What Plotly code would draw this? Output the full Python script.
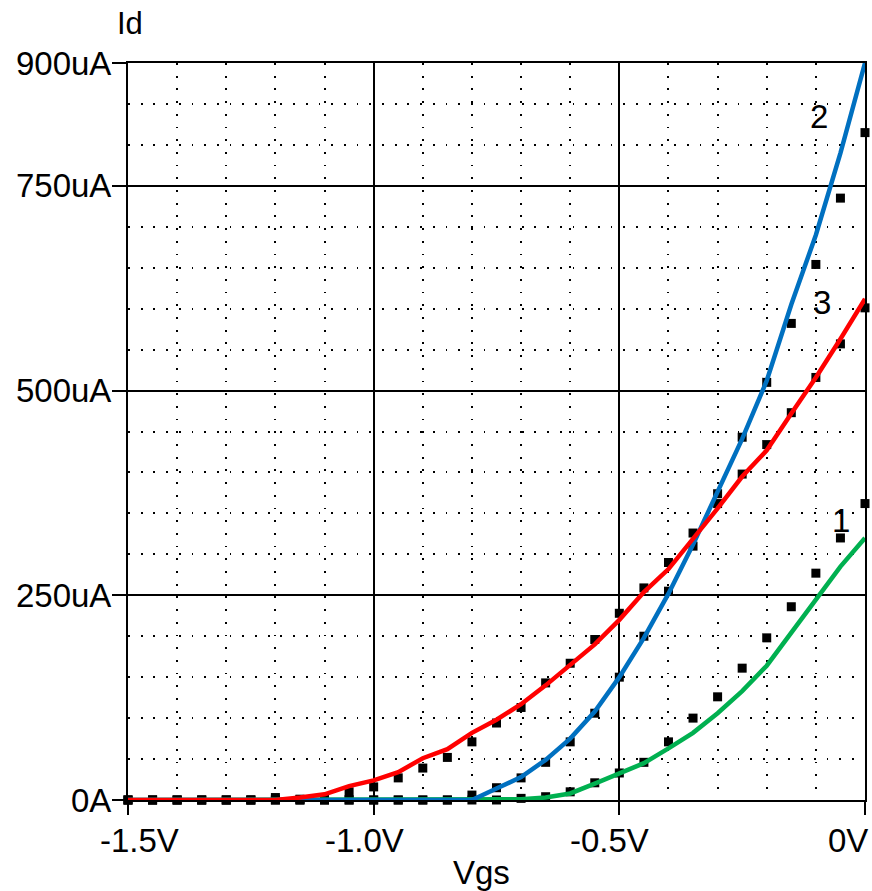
import plotly.graph_objects as go

# ---------------- data ----------------
vgs = [-1.5, -1.45, -1.4, -1.35, -1.3, -1.25, -1.2, -1.15, -1.1, -1.05, -1.0,
       -0.95, -0.9, -0.85, -0.8, -0.75, -0.7, -0.65, -0.6, -0.55, -0.5,
       -0.45, -0.4, -0.35, -0.3, -0.25, -0.2, -0.15, -0.1, -0.05, 0.0]

# simulated curves (uA)
curve1 = [0, 0, 0, 0, 0, 0, 0, 0, 0, 0, 0, 0, 0, 0, 0, 0,
          1, 3, 8, 20, 32, 45, 63, 82, 106, 133, 164, 205, 245, 285, 320]
curve2 = [0, 0, 0, 0, 0, 0, 0, 0, 0, 0, 0, 0, 0, 0, 0,
          14, 28, 49, 75, 108, 150, 198, 252, 312, 376, 441, 512, 605, 690, 790, 900]
curve3 = [0, 0, 0, 0, 0, 0, 0,
          3, 7, 17, 24, 34, 51, 62, 82, 98, 117, 140, 165, 190, 220, 254, 282,
          318, 356, 395, 427, 472, 516, 563, 612]

# measured points (uA)
meas1 = [0, 0, 0, 0, 0, 0, 0, 0, 0, 0, 0, 0, 0, 0, 0, 0,
         2, 4, 10, 21, 33, 46, 71, 100, 126, 161, 198, 236, 277, 320, 362]
meas2 = [0, 0, 0, 0, 0, 0, 0, 0, 0, 0, 0, 0, 0, 0,
         6, 15, 27, 46, 71, 106, 150, 200, 255, 310, 374, 443, 510, 582, 654, 735, 815]
meas3 = [0, 0, 0, 0, 0, 0,
         3, 1, 2, 10, 16, 27, 39, 52, 71, 94, 113, 143, 167, 196, 228, 259, 290,
         326, 362, 398, 434, 473, 516, 557, 601]

curve_names = ["1", "2", "3"]
curve_colors = ["#00B050", "#0070C0", "#FF0000"]
label_x = [-0.049, -0.093, -0.087]
label_y = [341, 835, 608]

x_tick_vals = [-1.5, -1.0, -0.5, 0.0]
x_tick_text = ["-1.5V", "-1.0V", "-0.5V", "0V"]
x_tick_shift = [11, -9, -10, -17]
y_tick_vals = [0, 250, 500, 750, 900]
y_tick_text = ["0A", "250uA", "500uA", "750uA", "900uA"]

FONT = "Liberation Sans, Arial, sans-serif"

fig = go.Figure()

for meas in (meas1, meas2, meas3):
    fig.add_trace(go.Scatter(
        x=vgs, y=meas, mode="markers",
        marker=dict(symbol="square", size=9, color="black", line=dict(width=0)),
        cliponaxis=False, showlegend=False, hoverinfo="skip"))

for ys, col in zip((curve1, curve2, curve3), curve_colors):
    fig.add_trace(go.Scatter(
        x=vgs, y=ys, mode="lines",
        line=dict(color=col, width=4.5),
        cliponaxis=False, showlegend=False, hoverinfo="skip"))

annotations = []
for xv, txt, sh in zip(x_tick_vals, x_tick_text, x_tick_shift):
    annotations.append(dict(x=xv, y=0, xref="x", yref="y", text=txt,
                            showarrow=False, xanchor="center", yanchor="top",
                            xshift=sh, yshift=-20,
                            font=dict(family=FONT, size=33, color="black")))
for name, xv, yv in zip(curve_names, label_x, label_y):
    annotations.append(dict(x=xv, y=yv, xref="x", yref="y", text=name,
                            showarrow=False, xanchor="center", yanchor="middle",
                            font=dict(family=FONT, size=33, color="black")))
annotations.append(dict(x=482, y=872, xref="paper", yref="paper", text="Vgs",
                        showarrow=False, font=dict(family=FONT, size=33, color="black")))
annotations.append(dict(x=130, y=24, xref="paper", yref="paper", text="Id",
                        showarrow=False, font=dict(family=FONT, size=31, color="black")))

# convert pixel-placed paper annotations
W, H = 872, 891
L, R, T, B = 128, 5, 63, 91
for a in annotations[-2:]:
    px, py = a["x"], a["y"]
    a["x"] = (px - L) / (W - L - R)
    a["y"] = 1 - (py - T) / (H - T - B)
    a["xanchor"] = "center"
    a["yanchor"] = "middle"

fig.update_layout(
    width=W, height=H,
    margin=dict(l=L, r=R, t=T, b=B),
    paper_bgcolor="white", plot_bgcolor="white",
    annotations=annotations,
    xaxis=dict(
        range=[-1.5, 0], tickvals=x_tick_vals, showticklabels=False,
        ticks="outside", ticklen=13, tickwidth=2, tickcolor="black",
        showgrid=True, gridcolor="black", gridwidth=2,
        showline=True, linecolor="black", linewidth=2, mirror=True,
        zeroline=False,
        minor=dict(dtick=0.1, showgrid=True, gridcolor="black", gridwidth=1.8,
                   griddash="1.8px,10.9px", ticks=""),
    ),
    yaxis=dict(
        range=[0, 900], tickvals=y_tick_vals, ticktext=y_tick_text,
        ticks="outside", ticklen=14, tickwidth=2, tickcolor="black",
        tickfont=dict(family=FONT, size=33, color="black"),
        ticklabelstandoff=-6,
        showgrid=True, gridcolor="black", gridwidth=2,
        showline=True, linecolor="black", linewidth=2, mirror=True,
        zeroline=False,
        minor=dict(dtick=50, showgrid=True, gridcolor="black", gridwidth=1.8,
                   griddash="1.8px,10.9px", ticks=""),
    ),
)

fig.write_html("out.html")
